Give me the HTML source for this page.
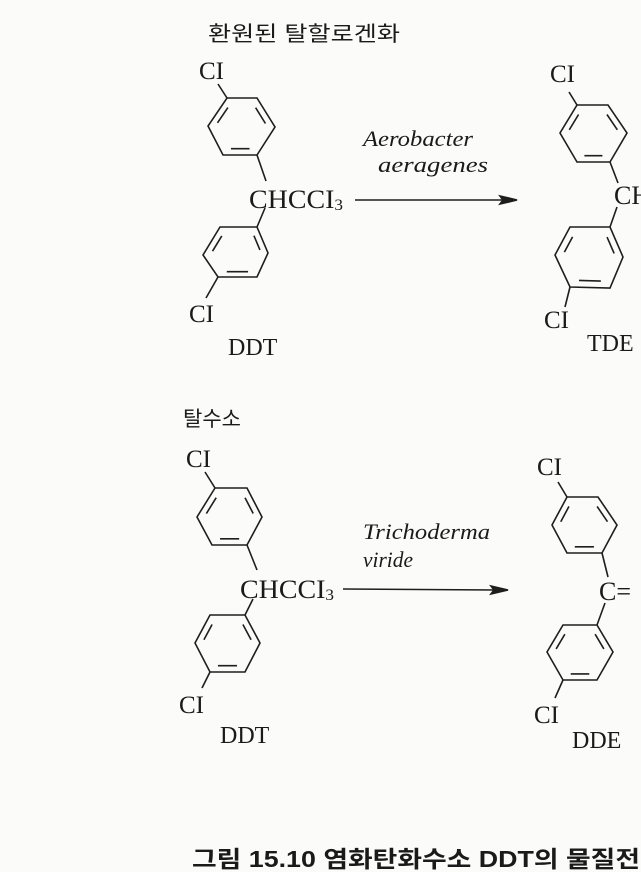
<!DOCTYPE html>
<html><head><meta charset="utf-8"><style>
html,body{margin:0;padding:0;background:#fbfbfa;}
svg{display:block}
.s{font-family:"Liberation Serif",serif;fill:#1a1a1a}
.k{font-family:"Liberation Sans","Noto Sans CJK KR",sans-serif;fill:#1a1a1a}
.i{font-family:"Liberation Serif",serif;font-style:italic;fill:#1a1a1a}
</style></head><body>
<svg id="g" width="641" height="872" viewBox="0 0 641 872" xmlns="http://www.w3.org/2000/svg">
<g stroke="#1e1e1e" stroke-width="1.6" fill="none" id="bonds">
<line x1="218" y1="84" x2="227" y2="98"/><line x1="257" y1="155" x2="266" y2="181"/>
<line x1="265" y1="208" x2="257" y2="227"/><line x1="218" y1="277" x2="206" y2="298"/>
<line x1="355" y1="200" x2="505" y2="200"/><path d="M517 200 L500 196 L503 200 L500 204 Z" fill="#1e1e1e"/>
<line x1="569" y1="92" x2="577" y2="105"/><line x1="610" y1="162" x2="618" y2="183"/>
<line x1="617" y1="207" x2="610" y2="227"/><line x1="570" y1="287" x2="565" y2="307"/>
<line x1="205" y1="472" x2="215" y2="488"/><line x1="247" y1="545" x2="257" y2="570"/>
<line x1="253" y1="599" x2="245" y2="615"/><line x1="210" y1="672" x2="202" y2="688"/>
<line x1="343" y1="589" x2="496" y2="590"/><path d="M508 590 L491 586 L494 590 L491 594 Z" fill="#1e1e1e"/>
<line x1="558" y1="482" x2="567" y2="497"/><line x1="602" y1="553" x2="608" y2="577"/>
<line x1="605" y1="603" x2="597" y2="625"/><line x1="563" y1="680" x2="555" y2="698"/>
</g>
<text class="k" x="208" y="41" font-size="21" textLength="192" lengthAdjust="spacingAndGlyphs">환원된 탈할로겐화</text>
<text class="s" x="199" y="79" font-size="25">CI</text>
<text class="s" x="249" y="208" font-size="26" textLength="94" lengthAdjust="spacingAndGlyphs">CHCCI<tspan font-size="16" dy="2">3</tspan></text>
<text class="s" x="189" y="322" font-size="25">CI</text>
<text class="s" x="228" y="355" font-size="24">DDT</text>
<text class="i" x="363" y="146" font-size="22" textLength="110" lengthAdjust="spacingAndGlyphs">Aerobacter</text>
<text class="i" x="378" y="172" font-size="22" textLength="110" lengthAdjust="spacingAndGlyphs">aeragenes</text>
<text class="s" x="550" y="82" font-size="25">CI</text>
<text class="s" x="614" y="204" font-size="26">CH</text>
<text class="s" x="544" y="328" font-size="25">CI</text>
<text class="s" x="587" y="351" font-size="24">TDE</text>
<text class="k" x="183" y="426" font-size="21" textLength="58" lengthAdjust="spacingAndGlyphs">탈수소</text>
<text class="s" x="186" y="467" font-size="25">CI</text>
<text class="s" x="240" y="598" font-size="26" textLength="94" lengthAdjust="spacingAndGlyphs">CHCCI<tspan font-size="16" dy="2">3</tspan></text>
<text class="s" x="179" y="713" font-size="25">CI</text>
<text class="s" x="220" y="743" font-size="24">DDT</text>
<text class="i" x="363" y="539" font-size="22" textLength="127" lengthAdjust="spacingAndGlyphs">Trichoderma</text>
<text class="i" x="363" y="567" font-size="22" textLength="50" lengthAdjust="spacingAndGlyphs">viride</text>
<text class="s" x="537" y="475" font-size="25">CI</text>
<text class="s" x="599" y="600" font-size="26">C=</text>
<text class="s" x="534" y="723" font-size="25">CI</text>
<text class="s" x="572" y="748" font-size="24">DDE</text>
<text class="k" x="192" y="867" font-size="23" font-weight="bold" textLength="448" lengthAdjust="spacingAndGlyphs">그림 15.10 염화탄화수소 DDT의 물질전</text>
</svg>
<script>
var rings=[
[[227,98],[257,98],[275,127],[257,155],[223,155],[208,126]],
[[220,227],[257,227],[268,253],[257,277],[218,277],[203,255]],
[[577,105],[608,105],[627,133],[610,162],[577,162],[560,133]],
[[570,227],[610,227],[623,257],[610,288],[570,287],[555,255]],
[[215,488],[247,488],[262,517],[247,545],[212,545],[197,517]],
[[210,615],[245,615],[260,643],[245,672],[210,672],[195,643]],
[[567,497],[598,497],[617,525],[602,553],[567,553],[552,525]],
[[563,625],[597,625],[613,652],[597,680],[563,680],[547,652]]];
var g=document.getElementById('bonds'),ns="http://www.w3.org/2000/svg";
function L(a,b){var l=document.createElementNS(ns,'line');l.setAttribute('x1',a[0]);l.setAttribute('y1',a[1]);l.setAttribute('x2',b[0]);l.setAttribute('y2',b[1]);g.appendChild(l);}
rings.forEach(function(r){
 var p=r.map(function(v){return v.join(',')}).join(' ');
 var pg=document.createElementNS(ns,'polygon');pg.setAttribute('points',p);g.appendChild(pg);
 var cx=0,cy=0;r.forEach(function(v){cx+=v[0];cy+=v[1]});cx/=6;cy/=6;
 [[5,0],[1,2],[3,4]].forEach(function(e){
  var a=r[e[0]],b=r[e[1]],f=0.78;
  var A=[cx+(a[0]-cx)*f,cy+(a[1]-cy)*f],B=[cx+(b[0]-cx)*f,cy+(b[1]-cy)*f];
  var t=0.15;
  L([A[0]+(B[0]-A[0])*t,A[1]+(B[1]-A[1])*t],[B[0]+(A[0]-B[0])*t,B[1]+(A[1]-B[1])*t]);
 });
});
</script>
</body></html>
